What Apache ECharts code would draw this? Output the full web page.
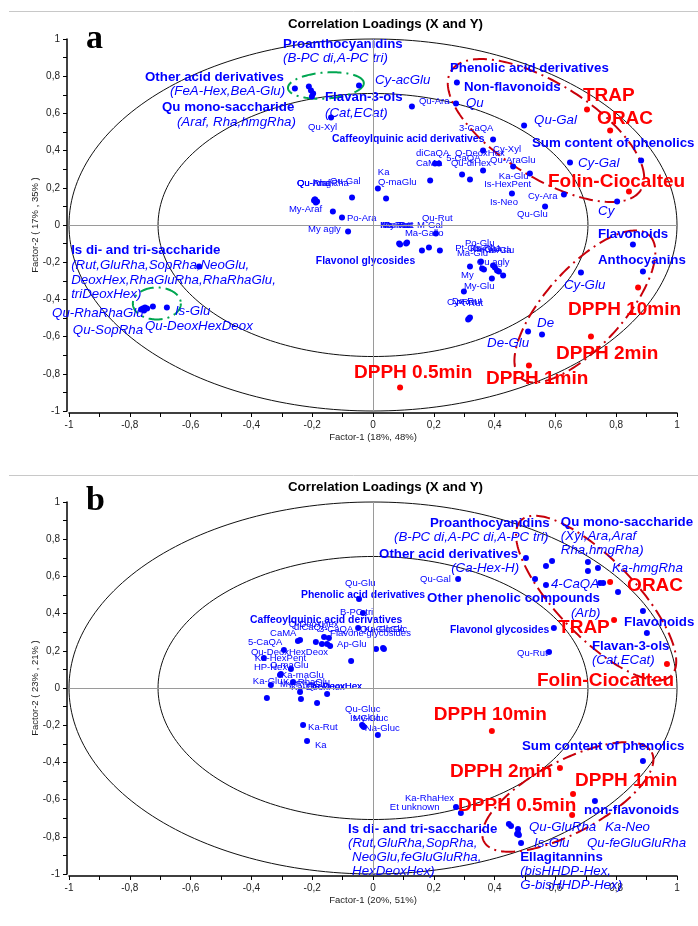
<!DOCTYPE html>
<html><head><meta charset="utf-8">
<script src="https://cdn.jsdelivr.net/npm/echarts@6/dist/echarts.min.js"></script>
<style>html,body{margin:0;padding:0;background:#fff}#c{width:698px;height:926px}</style>
</head><body><div id="c"></div>
<script>
// ---------------- DATA ----------------
const titleText = 'Correlation Loadings (X and Y)';
const panelLetters = ['a', 'b'];
const axisNamesA = ['Factor-1 (18%, 48%)', 'Factor-2 ( 17% , 35% )'];
const axisNamesB = ['Factor-1 (20%, 51%)', 'Factor-2 ( 23% , 21% )'];
const circleRadii = [1, 0.7071];

// Panel a
const aBlueDots = [
 [-0.257,0.734],[-0.211,0.745],[-0.204,0.723],[-0.197,0.707],[-0.201,0.691],
 [0.276,0.766],[0.882,0.347],[-0.188,0.121],[-0.132,0.073],
 [0.220,-0.137],[0.428,-0.272],[0.855,-0.105],[0.888,-0.25],[-0.572,-0.223],
 [-0.753,-0.46],[-0.743,-0.449],[-0.75,-0.444]
];
const aSmall = [
 ['Qu-Xyl',-0.138,0.578],['Qu-Ara',0.128,0.637],['3-CaQA',0.395,0.46],['Cy-Xyl',0.362,0.40],
 ['diCaQA',0.204,0.331],['CaMA',0.217,0.331],['Q-DeoxHex',0.293,0.272],['Qu-diHex',0.319,0.245],
 ['Qu-AraGlu',0.362,0.293],['5-CaQA',0.188,0.239],['Ka-Glu',0.516,0.277],['Is-HexPent',0.461,0.315],
 ['Is-Neo',0.457,0.169],['Cy-Ara',0.628,0.164],['Qu-Glu',0.566,0.099],['My-Araf',-0.191,0.137],
 ['Qu-Araf',-0.194,0.132],['Qu-Rha',-0.191,0.137],['Qu-hmgRha',-0.184,0.126],['Qu-Gal',-0.069,0.148],
 ['Po-Ara',-0.102,0.04],['Ka',0.016,0.196],['Q-maGlu',0.043,0.142],['My agly',-0.082,-0.035],
 ['Qu-Rut',0.207,-0.046],['Ma-Rut',0.086,-0.099],['My-Rut',0.112,-0.094],['Ka-Rut',0.089,-0.105],
 ['Po-Rut',0.109,-0.099],['Ma-Gallo',0.161,-0.137],['M-Gal',0.184,-0.121],['Po-Glu',0.355,-0.196],
 ['Pt-Glu',0.359,-0.234],['Ma-Glu',0.365,-0.239],['Is-Rha',0.395,-0.218],['Ka-Gal',0.401,-0.228],
 ['Ka-Ara',0.408,-0.245],['Is-Glu',0.414,-0.25],['My',0.319,-0.223],['Qu agly',0.391,-0.288],
 ['My-Glu',0.299,-0.358],['Cy-Rut',0.316,-0.503],['De-Rut',0.319,-0.497],['Pt-Rut',0.313,-0.508]
];
const aItalic = [
 ['Cy-acGlu',-0.046,0.75],['Qu',0.273,0.653],['Qu-Gal',0.497,0.535],['Cy-Gal',0.648,0.336],
 ['Cy',0.803,0.126],['Cy-Glu',0.684,-0.255],['De',0.556,-0.589],['De-Glu',0.51,-0.573],
 ['Qu-RhaRhaGlu',-0.763,-0.454],['Qu-SopRha',-0.757,-0.449],['Is-Glu',-0.724,-0.438],['Qu-DeoxHexDeox',-0.678,-0.444]
];
const aRed = [
 ['TRAP',0.704,0.621],['ORAC',0.78,0.508],['Folin-Ciocalteu',0.842,0.18],['DPPH 10min',0.872,-0.336],
 ['DPPH 2min',0.717,-0.599],['DPPH 1min',0.513,-0.755],['DPPH 0.5min',0.089,-0.874]
];
const aGroupBold = [
 ['Proanthocyanidins',-0.296,0.970],['Other acid derivatives',-0.75,0.793],['Qu mono-saccharide',-0.694,0.632],
 ['Flavan-3-ols',-0.158,0.685],['Phenolic acid derivatives',0.253,0.841],['Non-flavonoids',0.299,0.739],
 ['Sum content of phenolics',0.523,0.438],['Flavonoids',0.74,-0.051],['Anthocyanins',0.74,-0.191],
 ['Is di- and tri-saccharide',-0.993,-0.137]
];
const aGroupSmall = [['Caffeoylquinic acid derivatives',-0.135,0.46],['Flavonol glycosides',-0.188,-0.196]];
const aGroupItalic = [
 ['(B-PC di,A-PC tri)',-0.296,0.895],['(FeA-Hex,BeA-Glu)',-0.668,0.718],['(Araf, Rha,hmgRha)',-0.645,0.551],
 ['(Cat,ECat)',-0.158,0.599],['(Rut,GluRha,SopRha,NeoGlu,',-0.993,-0.218],['DeoxHex,RhaGluRha,RhaRhaGlu,',-0.993,-0.298],
 ['triDeoxHex)',-0.993,-0.374]
];
const aEllipseCenters = [[0.569,0.508],[0.697,-0.438],[-0.155,0.75],[-0.711,-0.422]];

// Panel b
const bBlueDots = [
 [0.503,0.699],[0.589,0.683],[0.569,0.656],[0.707,0.677],[0.707,0.629],[0.533,0.586],
 [0.747,0.565],[0.757,0.565],[0.806,0.516],[0.888,0.414],[0.901,0.296],[0.595,0.323],
 [0.888,-0.392],[0.447,-0.731],[0.454,-0.742],[0.474,-0.785],[0.48,-0.79],
 [-0.168,0.237],[-0.151,0.237],[-0.141,0.226],[-0.072,0.145],[-0.349,-0.054]
];
const bSmall = [
 ['Qu-Rut',0.579,0.194],['Qu-Gal',0.28,0.586],['Ka-RhaHex',0.273,-0.64],['Et unknown',0.289,-0.672],
 ['Qu-Glu',-0.046,0.478],['B-PC tri',-0.033,0.403],['Flavone glycosides',-0.049,0.323],['Ap-Glu',0.01,0.21],
 ['Qu-GlcGlc',0.033,0.215],['Ka-GlcGlc',0.036,0.21],['CaMA',-0.24,0.258],['5-CaQA',-0.247,0.253],
 ['Q-DeoxHex',-0.188,0.247],['diCaQA',-0.161,0.274],['3-CaQA',-0.145,0.269],['Ka-HexPent',-0.359,0.161],
 ['Qu-DeoxHexDeox',-0.293,0.204],['Q-maGlu',-0.27,0.102],['HP-Hex',-0.303,0.075],['Ka-maGlu',-0.306,0.07],
 ['Ka-Glu',-0.336,0.016],['Ka-RhaGlu',-0.263,0.032],['My-RhaGlu',-0.24,-0.022],['Ka-DeoxHex',-0.237,-0.059],
 ['Is-DeoxHex',-0.184,-0.081],['Qu-DeoxHex',-0.151,-0.032],['Ka-Rut',-0.23,-0.199],['Ka',-0.217,-0.285],
 ['Qu-Gluc',-0.036,-0.199],['Is-Gluc',-0.03,-0.21],['My-Gluc',-0.033,-0.204],['Na-Gluc',0.016,-0.253]
];
const bItalic = [
 ['Ka-hmgRha',0.74,0.645],['4-CaQA',0.569,0.554],['Qu-GluRha',0.477,-0.758],['Is-Glu',0.487,-0.833],
 ['Ka-Neo',0.73,-0.608],['Qu-feGluGluRha',0.477,-0.78]
];
const bRed = [
 ['ORAC',0.78,0.57],['TRAP',0.793,0.366],['Folin-Ciocalteu',0.967,0.129],['DPPH 10min',0.391,-0.231],
 ['DPPH 2min',0.615,-0.43],['DPPH 1min',0.658,-0.57],['DPPH 0.5min',0.655,-0.683]
];
const bGroupBold = [
 ['Proanthocyanidins',0.1875,0.887],['Qu mono-saccharide',0.618,0.892],['Other acid derivatives',0.02,0.72],
 ['Other phenolic compounds',0.178,0.484],['Flavonoids',0.826,0.355],['Flavan-3-ols',0.72,0.226],
 ['Sum content of phenolics',0.49,-0.312],['non-flavonoids',0.694,-0.656],['Is di- and tri-saccharide',-0.082,-0.758],
 ['Ellagitannins',0.484,-0.909]
];
const bGroupSmall = [['Phenolic acid derivatives',-0.237,0.5],['Caffeoylquinic acid derivatives',-0.405,0.366],['Flavonol glycosides',0.253,0.312]];
const bGroupItalic = [
 ['(B-PC di,A-PC di,A-PC tri)',0.069,0.812],['(Xyl,Ara,Araf',0.618,0.817],['Rha,hmgRha)',0.618,0.742],
 ['(Ca-Hex-H)',0.257,0.645],['(Arb)',0.651,0.403],['(Cat,ECat)',0.72,0.151],
 ['(Rut,GluRha,SopRha,',-0.082,-0.833],['NeoGlu,feGluGluRha,',-0.069,-0.909],['HexDeoxHex)',-0.069,-0.984],
 ['(bisHHDP-Hex,',0.484,-0.984],['G-bisHHDP-Hex)',0.484,-1.059]
];
const bEllipseCenters = [[0.734,0.484],[0.641,-0.586]];

// ---------------- STYLE (label offsets in px, ellipse shapes) ----------------
const aSmallOff = [
 [-23,10],[7,-5],[-34,-11],[10,-1],[-19,-10],[-23,0],[-7,-21],[-19,-16],
 [7,-10],[16,-22],[-31,3],[-29,18],[-22,9],[-36,2],[-28,8],[-26,10],
 [-17,-17],[-18,-16],[-20,-18],[-22,-16],[5,1],[0,-16],[-8,-16],[-40,-2],
 [-14,-15],[-19,-18],[-25,-17],[-20,-19],[-22,-18],[-17,-17],[-12,-22],[-16,-18],
 [-27,-20],[-27,-16],[-20,-17],[-25,-18],[-15,-20],[-10,-21],[-9,9],[-15,-16],
 [0,-5],[-22,-16],[-18,-16],[-12,-16]
];
const aItalicOff = [[16,-5],[10,0],[10,-5],[8,1],[-19,10],[-17,13],[-5,-11],[-41,12],[-89,4],[-70,22],[22,5],[-22,19]];
const aRedOff = [[-4,-14],[-13,-12],[-81,-10],[-70,22],[-35,17],[-43,13],[-46,-15]];
const bSmallOff = [
 [-32,1],[-38,0],[-51,-9],[-71,-6],[-14,-16],[-23,-1],[-28,5],[-39,-5],
 [-23,-19],[-20,-20],[-30,-7],[-50,1],[-27,-18],[-30,-10],[-10,-9],[-9,0],
 [-33,2],[-21,-4],[-27,-7],[1,0],[-18,-4],[-10,0],[-20,-8],[-10,-12],
 [-5,-17],[-20,-8],[5,2],[8,4],[-17,-16],[-14,-9],[-10,-8],[-13,-7]
];
const bItalicOff = [[14,0],[5,-1],[11,-2],[13,0],[10,26],[69,10]];
const bRedOff = [[17,4],[-56,8],[-130,17],[-58,-16],[-110,4],[2,-13],[-114,-9]];

const DARKRED = '#c8000a', GREEN = '#00a651';
const aEllipseStyle = [
 {a:112,b:47,rot:32,color:DARKRED},{a:96,b:39,rot:-48,color:DARKRED},
 {a:38,b:13,rot:-4,color:GREEN},{a:24,b:16,rot:0,color:GREEN}
];
const bEllipseStyle = [{a:108,b:39,rot:46,color:DARKRED},{a:95,b:36,rot:-28,color:DARKRED}];

const FONT = '"Liberation Sans", Arial, sans-serif';
const BLUE = '#0000ff', RED = '#ff0000';

// ---------------- BUILDERS ----------------
function fmt(v){ return String(Math.round(v*10)/10).replace('.', ','); }

function pointSeries(g, list, offs, st){
  const s = st.size;
  return {
    type:'scatter', xAxisIndex:g, yAxisIndex:g, symbol:'circle', symbolSize:s, clip:false, silent:true, z:st.z||4,
    itemStyle:{color:st.color, opacity:1},
    label:{show:true, formatter:'{b}', align:'left', verticalAlign:'middle', color:st.labelColor,
      fontSize:st.fontSize, fontWeight:st.fontWeight||'normal', fontStyle:st.fontStyle||'normal', fontFamily:FONT},
    emphasis:{disabled:true},
    data: list.map((p,i)=>{
      const o = offs ? offs[i] : [0,0];
      return {name:p[0], value:[p[1],p[2]], label:{position:[o[0]+s/2, o[1]+s/2]}};
    })
  };
}
function dotSeries(g, list){
  return {type:'scatter', xAxisIndex:g, yAxisIndex:g, symbol:'circle', symbolSize:6, clip:false, silent:true, z:4,
    itemStyle:{color:BLUE, opacity:1}, emphasis:{disabled:true}, data:list,
    markLine:{silent:true, symbol:'none', animation:false, label:{show:false},
      lineStyle:{color:'#9a9a9a', width:1, type:'solid'}, data:[{xAxis:0},{yAxis:0}]}};
}
function circleSeries(g){
  return {type:'custom', xAxisIndex:g, yAxisIndex:g, clip:false, silent:true, z:2,
    data: circleRadii.map(r=>[r,0]), encode:{x:0,y:1},
    renderItem(params, api){
      const r = api.value(0), pts=[];
      for(let k=0;k<=240;k++){ const t=k/240*2*Math.PI; pts.push(api.coord([r*Math.cos(t), r*Math.sin(t)])); }
      return {type:'polyline', shape:{points:pts}, style:{stroke:'#111', lineWidth:1, fill:null}};
    }};
}
function ellipseSeries(g, centers, styles){
  return {type:'custom', xAxisIndex:g, yAxisIndex:g, clip:false, silent:true, z:3,
    data: centers, encode:{x:0,y:1},
    renderItem(params, api){
      const st = styles[params.dataIndex];
      const c = api.coord([api.value(0), api.value(1)]);
      const th = st.rot*Math.PI/180, pts=[];
      for(let k=0;k<=200;k++){
        const t=k/200*2*Math.PI, ex=st.a*Math.cos(t), ey=st.b*Math.sin(t);
        pts.push([c[0]+ex*Math.cos(th)-ey*Math.sin(th), c[1]+ex*Math.sin(th)+ey*Math.cos(th)]);
      }
      return {type:'polyline', shape:{points:pts}, style:{stroke:st.color, lineWidth:2, fill:null, lineDash:[14,5,2,5]}};
    }};
}
function xAx(g, name){
  return {gridIndex:g, type:'value', min:-1, max:1, interval:0.2, offset:2,
    name, nameLocation:'middle', nameGap:19, nameMoveOverlap:false,
    nameTextStyle:{fontSize:9.5, color:'#222', fontFamily:FONT},
    axisLine:{onZero:false, lineStyle:{color:'#000', width:1.5}},
    axisTick:{show:true, inside:false, length:4, lineStyle:{color:'#000'}},
    minorTick:{show:true, splitNumber:2, length:4, lineStyle:{color:'#000'}},
    splitLine:{show:false}, minorSplitLine:{show:false},
    axisLabel:{fontSize:10, color:'#222', margin:7, fontFamily:FONT, formatter:fmt}};
}
function yAx(g, name){
  const o = xAx(g, name); o.nameGap = 27; o.nameRotate = 90; return o;
}
function panelSeries(g, d){
  const ann = {size:1, color:'rgba(0,0,0,0)', labelColor:BLUE};
  return [
    circleSeries(g),
    ellipseSeries(g, d.ell, d.ellSt),
    dotSeries(g, d.dots),
    pointSeries(g, d.small, d.smallOff, {size:6, color:BLUE, labelColor:BLUE, fontSize:9.5}),
    pointSeries(g, d.italic, d.italicOff, {size:6, color:BLUE, labelColor:BLUE, fontSize:13.3, fontStyle:'italic'}),
    pointSeries(g, d.red, d.redOff, {size:6, color:RED, labelColor:RED, fontSize:19, fontWeight:'bold', z:5}),
    pointSeries(g, d.gBold, null, Object.assign({fontSize:13.3, fontWeight:'bold'}, ann)),
    pointSeries(g, d.gSmall, null, Object.assign({fontSize:10.4, fontWeight:'bold'}, ann)),
    pointSeries(g, d.gItalic, null, Object.assign({fontSize:13.3, fontStyle:'italic'}, ann))
  ];
}

const chart = echarts.init(document.getElementById('c'), null, {renderer:'canvas'});
chart.setOption({
  animation:false, backgroundColor:'#fff',
  title:[
    {text:titleText, left:283, top:13, textStyle:{fontSize:13.3, fontWeight:'bold', color:'#000', fontFamily:FONT}},
    {text:titleText, left:283, top:476, textStyle:{fontSize:13.3, fontWeight:'bold', color:'#000', fontFamily:FONT}}
  ],
  grid:[{left:69, top:39, width:608, height:372}, {left:69, top:502, width:608, height:372}],
  xAxis:[xAx(0, axisNamesA[0]), xAx(1, axisNamesB[0])],
  yAxis:[yAx(0, axisNamesA[1]), yAx(1, axisNamesB[1])],
  graphic:[
    {type:'line', shape:{x1:9, y1:11.5, x2:698, y2:11.5}, style:{stroke:'#c8c8c8', lineWidth:1}},
    {type:'line', shape:{x1:9, y1:475.5, x2:698, y2:475.5}, style:{stroke:'#c8c8c8', lineWidth:1}},
    {type:'text', x:86, y:39, style:{text:panelLetters[0], font:'bold 34px "Liberation Serif", serif', fill:'#000', verticalAlign:'middle'}},
    {type:'text', x:86, y:501, style:{text:panelLetters[1], font:'bold 34px "Liberation Serif", serif', fill:'#000', verticalAlign:'middle'}}
  ],
  series:[
    ...panelSeries(0, {ell:aEllipseCenters, ellSt:aEllipseStyle, dots:aBlueDots, small:aSmall, smallOff:aSmallOff,
      italic:aItalic, italicOff:aItalicOff, red:aRed, redOff:aRedOff, gBold:aGroupBold, gSmall:aGroupSmall, gItalic:aGroupItalic}),
    ...panelSeries(1, {ell:bEllipseCenters, ellSt:bEllipseStyle, dots:bBlueDots, small:bSmall, smallOff:bSmallOff,
      italic:bItalic, italicOff:bItalicOff, red:bRed, redOff:bRedOff, gBold:bGroupBold, gSmall:bGroupSmall, gItalic:bGroupItalic})
  ]
});
</script></body></html>
